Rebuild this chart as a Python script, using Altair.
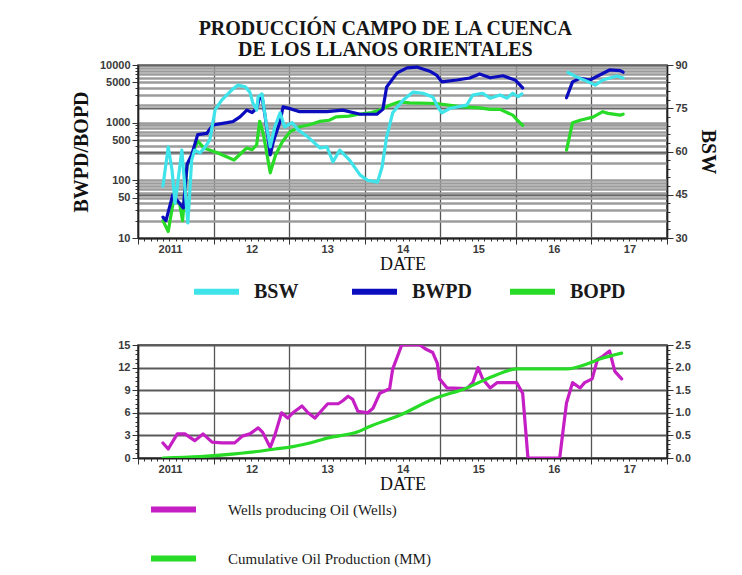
import altair as alt
import pandas as pd

# ---------------- data ----------------
bwpd_t1 = [2011.33, 2011.37, 2011.46, 2011.53, 2011.60, 2011.65, 2011.71, 2011.79, 2011.91, 2011.99,
           2012.18, 2012.26, 2012.35, 2012.44, 2012.51, 2012.57, 2012.61, 2012.64, 2012.68, 2012.75,
           2012.79, 2012.88, 2012.92, 2013.01, 2013.14, 2013.50, 2013.71, 2013.94, 2014.16, 2014.24,
           2014.29, 2014.43, 2014.56, 2014.69, 2014.86, 2014.95, 2015.02, 2015.22, 2015.39, 2015.52,
           2015.66, 2015.83, 2015.92, 2015.99, 2016.09]
bwpd_v1 = [23, 20, 56, 43, 33, 190, 275, 620, 650, 910,
           1000, 1050, 1260, 1650, 1500, 1770, 2700, 2900, 1350, 275,
           465, 1050, 1880, 1750, 1550, 1550, 1650, 1400, 1400, 1700,
           4150, 7300, 8900, 9200, 7800, 6700, 5100, 5500, 5950, 7000,
           6000, 6500, 5900, 5500, 4000]
bwpd_t2 = [2016.67, 2016.75, 2016.85, 2016.98, 2017.11, 2017.24, 2017.38, 2017.42]
bwpd_v2 = [2700, 5100, 5900, 5500, 6700, 8200, 8000, 7500]

bopd_t1 = [2011.33, 2011.40, 2011.47, 2011.55, 2011.59, 2011.65, 2011.71, 2011.79, 2011.87, 2012.05,
           2012.27, 2012.34, 2012.44, 2012.51, 2012.57, 2012.61, 2012.66, 2012.75, 2012.82, 2012.91,
           2013.01, 2013.14, 2013.27, 2013.40, 2013.53, 2013.62, 2013.79, 2013.92, 2014.09, 2014.17,
           2014.33, 2014.46, 2014.59, 2014.95, 2015.26, 2015.52, 2015.66, 2015.79, 2015.96, 2016.02,
           2016.09]
bopd_v1 = [20, 13, 45, 40, 20, 180, 270, 480, 365, 300,
           225, 275, 365, 340, 410, 1050, 620, 135, 275, 465,
           690, 850, 920, 1050, 1100, 1260, 1300, 1400, 1500, 1600,
           2000, 2300, 2200, 2150, 1900, 1800, 1700, 1700, 1350, 1100,
           900]
bopd_t2 = [2016.67, 2016.75, 2016.85, 2017.02, 2017.15, 2017.22, 2017.38, 2017.42]
bopd_v2 = [335, 1000, 1100, 1250, 1550, 1450, 1350, 1400]

bsw_t1 = [2011.33, 2011.40, 2011.45, 2011.49, 2011.53, 2011.58, 2011.62, 2011.66, 2011.71, 2011.75,
          2011.82, 2011.89, 2011.95, 2012.02, 2012.11, 2012.24, 2012.32, 2012.42, 2012.48, 2012.52,
          2012.57, 2012.59, 2012.64, 2012.71, 2012.75, 2012.81, 2012.88, 2012.94, 2013.04, 2013.12,
          2013.25, 2013.41, 2013.50, 2013.58, 2013.67, 2013.80, 2013.94, 2014.04, 2014.17, 2014.23,
          2014.29, 2014.37, 2014.51, 2014.64, 2014.77, 2014.90, 2014.97, 2015.02, 2015.13, 2015.35,
          2015.43, 2015.56, 2015.66, 2015.79, 2015.88, 2015.96, 2016.03, 2016.08]
bsw_v1 = [48, 61.6, 53.6, 42, 50, 60.5, 47.7, 35.2, 57, 60.5,
          59.5, 61.6, 64, 74.4, 77.9, 81.3, 83, 82.4, 80.6, 76.8,
          74.4, 79, 80, 67.5, 61.6, 68.5, 73.4, 68.5, 70, 67.5,
          65, 61.2, 61.6, 56.4, 60.5, 57, 51.8, 50, 49.4, 54.6,
          65, 73.4, 77.9, 80.6, 80.2, 78.9, 75.4, 73.4, 75, 76.1,
          79.6, 80.2, 78.5, 79.6, 78.5, 80.2, 79, 80]
bsw_t2 = [2016.69, 2016.81, 2016.94, 2017.05, 2017.15, 2017.24, 2017.34, 2017.42]
bsw_v2 = [87.4, 85.8, 84.4, 83, 84.8, 85.5, 86.2, 85.5]

wells_t = [2011.33, 2011.40, 2011.52, 2011.62, 2011.75, 2011.86, 2011.98, 2012.11, 2012.28, 2012.38,
           2012.48, 2012.59, 2012.65, 2012.75, 2012.81, 2012.90, 2012.98, 2013.05, 2013.17, 2013.25,
           2013.34, 2013.43, 2013.51, 2013.65, 2013.71, 2013.78, 2013.84, 2013.91, 2014.04, 2014.11,
           2014.20, 2014.33, 2014.37, 2014.49, 2014.73, 2014.80, 2014.90, 2014.96, 2014.99, 2015.09,
           2015.35, 2015.43, 2015.50, 2015.56, 2015.66, 2015.75, 2016.01, 2016.09, 2016.16, 2016.58,
           2016.67, 2016.75, 2016.85, 2016.91, 2017.01, 2017.08, 2017.15, 2017.24, 2017.31, 2017.40]
wells_v = [2.0, 1.2, 3.2, 3.2, 2.3, 3.2, 2.1, 2.0, 2.0, 2.9,
           3.2, 4.0, 3.4, 1.4, 3.0, 6.0, 5.3, 6.0, 6.9, 6.0,
           5.3, 6.3, 7.2, 7.2, 7.6, 8.2, 7.8, 6.2, 6.0, 6.6,
           8.6, 9.2, 11.8, 15, 15, 14.5, 14, 12.6, 10.5, 9.3,
           9.2, 10, 12, 10.5, 9.3, 10, 10, 8.6, 0, 0,
           7.3, 10, 9.3, 10, 10.5, 13.1, 13.5, 14.2, 11.5, 10.5]

cum_t = [2011.33, 2011.82, 2012.28, 2012.61, 2012.81, 2013.05, 2013.38, 2013.50, 2013.94, 2014.04,
         2014.47, 2014.90, 2015.35, 2015.70, 2016.01, 2016.67, 2016.94, 2017.11, 2017.40]
cum_v = [0, 0.03, 0.09, 0.15, 0.2, 0.25, 0.38, 0.44, 0.6, 0.68,
         0.95, 1.3, 1.55, 1.81, 1.97, 1.97, 2.08, 2.19, 2.32]

top_series = ["BSW", "BWPD", "BOPD"]
bottom_series = ["Wells producing Oil (Wells)", "Cumulative Oil Production (MM)"]


def frame(ts, vs, series, seg):
    return pd.DataFrame({"t": ts, "v": vs, "series": series, "seg": seg})


df_prod = pd.concat([frame(bopd_t1, bopd_v1, "BOPD", 1), frame(bopd_t2, bopd_v2, "BOPD", 2),
                     frame(bwpd_t1, bwpd_v1, "BWPD", 1), frame(bwpd_t2, bwpd_v2, "BWPD", 2)])
df_bsw = pd.concat([frame(bsw_t1, bsw_v1, "BSW", 1), frame(bsw_t2, bsw_v2, "BSW", 2)])
df_wells = frame(wells_t, wells_v, bottom_series[0], 1)
df_cum = frame(cum_t, cum_v, bottom_series[1], 1)

# ---------------- styling ----------------
C_BSW, C_BWPD, C_BOPD = "#3fe3ea", "#0c0cbf", "#27db27"
C_WELLS, C_CUM = "#c41ec4", "#27db27"
SERIF = "Liberation Serif"
SANS = "Liberation Sans"
W, H_TOP, H_BOT = 529, 173, 113

month_vals = [2011 + m / 12 for m in range(85)]
is_year = "datum.value == round(datum.value)"


def x_enc():
    return alt.X(
        "t:Q",
        scale=alt.Scale(domain=[2011, 2018], nice=False, zero=False),
        axis=alt.Axis(
            values=month_vals,
            grid=True, gridColor="#555555", gridWidth=1.3,
            gridOpacity={"condition": {"test": is_year, "value": 1}, "value": 0},
            tickSize={"condition": {"test": is_year, "value": 6}, "value": 3},
            labelExpr="datum.value == 2011 ? '2011' : ((" + is_year +
                      " && datum.value < 2018) ? format(datum.value - 2000, 'd') : '')",
            labelOffset={"condition": {"test": "datum.value == 2011", "value": 32}, "value": 38},
            labelOverlap=False, labelFlush=False, labelPadding=-1,
            title="DATE", titleFont=SERIF, titleFontSize=18, titleFontWeight="normal",
            titleColor="#111111", titlePadding=1,
        ),
    )


log_vals = [d * 10 ** e for e in range(1, 4) for d in range(1, 10)] + [10000]
log_major = "indexof([10,50,100,500,1000,5000,10000], datum.value) >= 0"
y_log = alt.Y(
    "v:Q",
    scale=alt.Scale(type="log", domain=[10, 10000], nice=False),
    axis=alt.Axis(
        values=log_vals, grid=True, gridColor="#9c9c9c", gridWidth=2.4,
        labelExpr=log_major + " ? toString(datum.value) : ''",
        tickSize={"condition": {"test": log_major, "value": 6}, "value": 3},
        labelOverlap=False, labelPadding=2,
        title="BWPD/BOPD", titleFont=SERIF, titleFontSize=20, titleFontWeight="bold",
        titleColor="#111111", titlePadding=8,
    ),
)

bsw_vals = list(range(30, 91, 3))
bsw_major = "datum.value % 15 == 0"
y_bsw = alt.Y(
    "v:Q",
    scale=alt.Scale(domain=[30, 90], nice=False, zero=False),
    axis=alt.Axis(
        orient="right", values=bsw_vals, grid=True, gridColor="#666666", gridWidth=2.2,
        gridOpacity={"condition": {"test": bsw_major, "value": 1}, "value": 0},
        labelExpr=bsw_major + " ? toString(datum.value) : ''",
        tickSize={"condition": {"test": bsw_major, "value": 6}, "value": 3},
        labelOverlap=False, labelPadding=2,
        title="BSW", titleFont=SERIF, titleFontSize=20, titleFontWeight="bold",
        titleColor="#111111", titlePadding=10,
    ),
)

wells_vals = [round(i * 0.6, 6) for i in range(26)]
wells_major = "abs(datum.value / 3 - round(datum.value / 3)) < 0.001"
y_wells = alt.Y(
    "v:Q",
    scale=alt.Scale(domain=[0, 15], nice=False),
    axis=alt.Axis(
        values=wells_vals, grid=True, gridColor="#5a5a5a", gridWidth=1.8,
        gridOpacity={"condition": {"test": wells_major, "value": 1}, "value": 0},
        labelExpr=wells_major + " ? toString(round(datum.value)) : ''",
        tickSize={"condition": {"test": wells_major, "value": 6}, "value": 3},
        labelOverlap=False, labelPadding=2, title=None,
    ),
)

cum_vals = [round(i * 0.1, 6) for i in range(26)]
cum_major = "abs(datum.value * 2 - round(datum.value * 2)) < 0.001"
y_cum = alt.Y(
    "v:Q",
    scale=alt.Scale(domain=[0, 2.5], nice=False),
    axis=alt.Axis(
        orient="right", values=cum_vals, grid=False,
        labelExpr=cum_major + " ? format(datum.value, '.1f') : ''",
        tickSize={"condition": {"test": cum_major, "value": 6}, "value": 3},
        labelOverlap=False, labelPadding=2, title=None,
    ),
)

legend_top = alt.Legend(
    orient="none", legendX=53, legendY=201, direction="horizontal", title=None,
    symbolType="stroke", symbolSize=2025, symbolStrokeWidth=6, symbolOpacity=1,
    labelFont=SERIF, labelFontSize=20, labelFontWeight="bold", labelColor="#1a1a1a",
    labelOffset=12, columnPadding=26, gridAlign="all",
)
legend_bot = alt.Legend(
    orient="none", legendX=10, legendY=139, direction="vertical", title=None,
    symbolType="stroke", symbolSize=2025, symbolStrokeWidth=6, symbolOpacity=1,
    labelFont=SERIF, labelFontSize=15, labelColor="#1a1a1a", labelLimit=500,
    labelOffset=29, rowPadding=11,
)

color_top = alt.Color("series:N", scale=alt.Scale(domain=top_series, range=[C_BSW, C_BWPD, C_BOPD]),
                      legend=legend_top)
color_bot = alt.Color("series:N", scale=alt.Scale(domain=bottom_series, range=[C_WELLS, C_CUM]),
                      legend=legend_bot)

line_kw = dict(strokeWidth=3.2, clip=True, strokeJoin="round", strokeCap="round")

prod_layer = alt.Chart(df_prod).mark_line(**line_kw).encode(
    x=x_enc(), y=y_log, color=color_top, detail="seg:N")
bsw_layer = alt.Chart(df_bsw).mark_line(**line_kw).encode(
    x=x_enc(), y=y_bsw, color=color_top, detail="seg:N")
top = alt.layer(prod_layer, bsw_layer).resolve_scale(y="independent").properties(
    width=W, height=H_TOP)

wells_layer = alt.Chart(df_wells).mark_line(**line_kw).encode(
    x=x_enc(), y=y_wells, color=color_bot)
cum_layer = alt.Chart(df_cum).mark_line(interpolate="monotone", **line_kw).encode(
    x=x_enc(), y=y_cum, color=color_bot)
bottom = alt.layer(wells_layer, cum_layer).resolve_scale(y="independent").properties(
    width=W, height=H_BOT)

chart = (
    alt.vconcat(top, bottom, spacing=33)
    .resolve_scale(color="independent")
    .properties(
        title=alt.TitleParams(
            text=["PRODUCCIÓN CAMPO DE LA CUENCA", "DE LOS LLANOS ORIENTALES"],
            font=SERIF, fontSize=20, fontWeight="bold", color="#151515",
            anchor="middle", lineHeight=21, offset=-2, dx=-9,
        ),
        padding={"left": 70, "top": 19, "right": 10, "bottom": 0},
        background="white",
    )
    .configure_view(stroke="#333333", strokeWidth=1.5)
    .configure_axis(
        labelFont=SANS, labelFontSize=11, labelFontWeight="bold", labelColor="#3a3a3a",
        domainColor="#222222", domainWidth=1.5, tickColor="#333333", tickWidth=1,
    )
)

chart.save("out.html", embed_options={"renderer": "svg", "actions": False})
